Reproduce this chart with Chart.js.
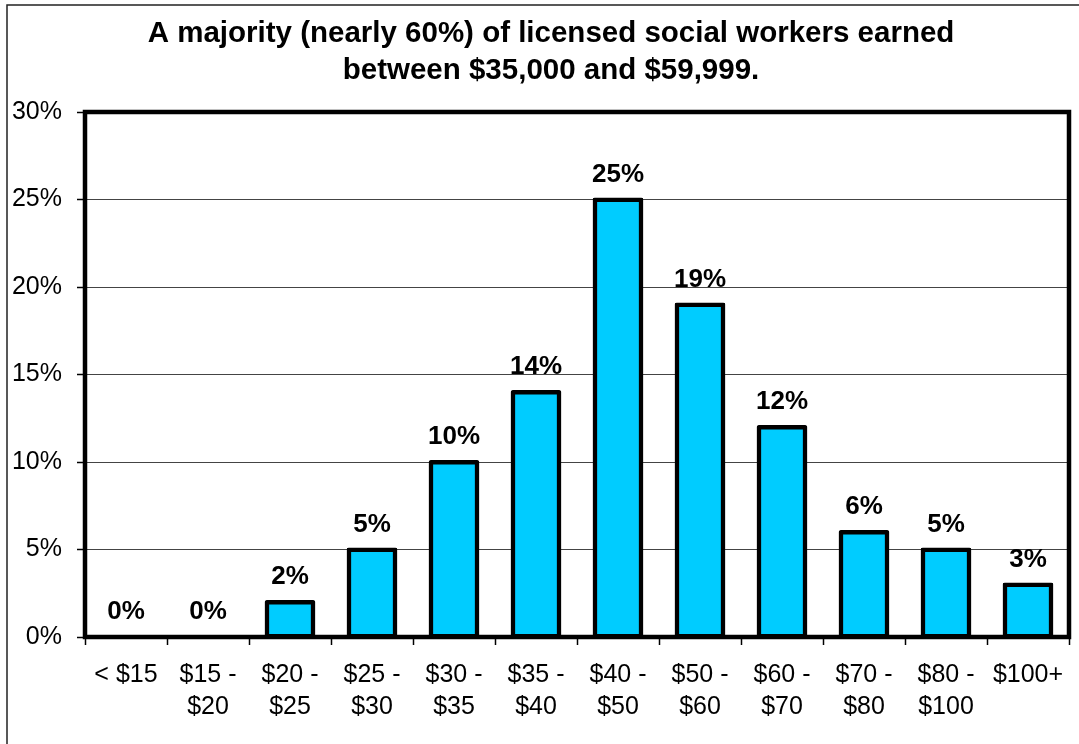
<!DOCTYPE html>
<html>
<head>
<meta charset="utf-8">
<script src="https://cdn.jsdelivr.net/npm/chart.js@4/dist/chart.umd.min.js"></script>
<style>
    html, body { margin: 0; padding: 0; background: #fff; }
    #wrap { width: 1079px; height: 744px; }
</style>
</head>
<body>
<div id="wrap"><canvas id="salary-chart" width="1079" height="744"></canvas></div>
<script>
const titleLines = [
    'A majority (nearly 60%) of licensed social workers earned',
    'between $35,000 and $59,999.',
];
const salaryBands = [
    '< $15',
    ['$15 -', '$20'],
    ['$20 -', '$25'],
    ['$25 -', '$30'],
    ['$30 -', '$35'],
    ['$35 -', '$40'],
    ['$40 -', '$50'],
    ['$50 -', '$60'],
    ['$60 -', '$70'],
    ['$70 -', '$80'],
    ['$80 -', '$100'],
    '$100+',
];
const sharePercent = [0, 0, 2, 5, 10, 14, 25, 19, 12, 6, 5, 3];
const yTicks = [0, 5, 10, 15, 20, 25, 30];

const FONT = "'Liberation Sans', Arial, sans-serif";

// Thin frame round the whole picture plus the heavy plot-area box
const framePlugin = {
    id: 'frame',
    beforeDraw(chart) {
        const ctx = chart.ctx;
        ctx.save();
        ctx.strokeStyle = '#222';
        ctx.lineWidth = 1.5;
        ctx.strokeRect(7, 5, chart.width + 20, chart.height + 20);
        ctx.restore();
    },
    afterDraw(chart) {
        const { left, top, right, bottom } = chart.chartArea;
        const ctx = chart.ctx;
        ctx.save();
        ctx.strokeStyle = '#000';
        ctx.lineWidth = 4.5;
        ctx.lineJoin = 'miter';
        ctx.strokeRect(left, top, right - left, bottom - top);
        ctx.restore();
    },
};

// Title sits a little right of the canvas centre in the original,
// so it is drawn by hand into the space kept free by layout.padding.top
const titlePlugin = {
    id: 'sideTitle',
    afterDraw(chart) {
        const ctx = chart.ctx;
        ctx.save();
        ctx.font = `bold 29.5px ${FONT}`;
        ctx.fillStyle = '#000';
        ctx.textAlign = 'center';
        ctx.textBaseline = 'middle';
        titleLines.forEach((line, i) => {
            ctx.fillText(line, 551, 34 + i * 37);
        });
        ctx.restore();
    },
};

// Bold value labels above each bar
const valueLabels = {
    id: 'valueLabels',
    afterDatasetsDraw(chart) {
        const ctx = chart.ctx;
        const meta = chart.getDatasetMeta(0);
        ctx.save();
        ctx.font = `bold 26px ${FONT}`;
        ctx.fillStyle = '#000';
        ctx.textAlign = 'center';
        ctx.textBaseline = 'alphabetic';
        meta.data.forEach((bar, i) => {
            ctx.fillText(sharePercent[i] + '%', bar.x, bar.y - 18);
        });
        ctx.restore();
    },
};

new Chart(document.getElementById('salary-chart'), {
    type: 'bar',
    data: {
        labels: salaryBands,
        datasets: [{
            data: sharePercent,
            backgroundColor: '#00ccff',
            borderColor: '#000',
            borderWidth: 4.5,
            borderSkipped: false,
            borderRadius: 2,
            inflateAmount: 2,
            barPercentage: 0.57,
            categoryPercentage: 1,
        }],
    },
    options: {
        responsive: false,
        animation: false,
        layout: { padding: { left: 0, right: 10, top: 112, bottom: 0 } },
        plugins: {
            legend: { display: false },
            tooltip: { enabled: false },
            title: { display: false },
        },
        scales: {
            x: {
                afterFit(scale) { scale.height = 107; },
                border: { display: false },
                grid: {
                    offset: true,
                    drawOnChartArea: false,
                    drawTicks: true,
                    tickLength: 8,
                    tickColor: '#000',
                    tickWidth: 1.5,
                },
                ticks: {
                    color: '#000',
                    padding: 14,
                    maxRotation: 0,
                    autoSkip: false,
                    font: { family: FONT, size: 25, lineHeight: 1.28 },
                },
            },
            y: {
                min: 0,
                max: 30,
                afterFit(scale) { scale.width = 85; },
                afterBuildTicks(scale) {
                    scale.ticks = yTicks.map(v => ({ value: v }));
                },
                border: { display: false },
                grid: {
                    color: '#444',
                    lineWidth: 1,
                    drawTicks: true,
                    tickLength: 8,
                    tickColor: '#000',
                    tickWidth: 1.5,
                },
                ticks: {
                    color: '#000',
                    padding: 15,
                    font: { family: FONT, size: 25 },
                    callback: (v) => v + '%',
                },
            },
        },
    },
    plugins: [framePlugin, titlePlugin, valueLabels],
});
</script>
</body>
</html>
